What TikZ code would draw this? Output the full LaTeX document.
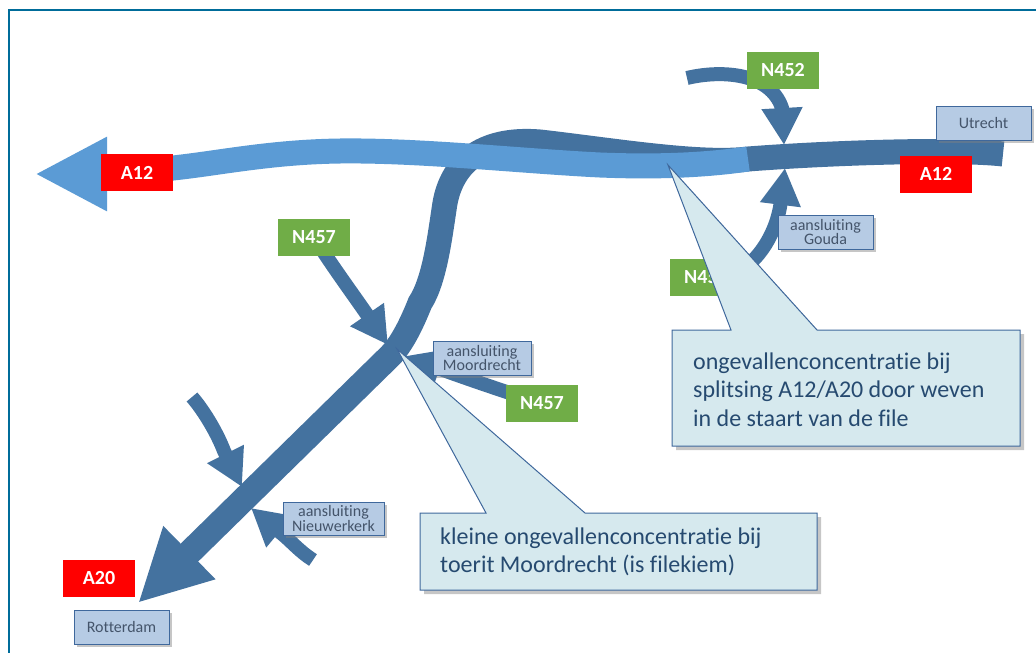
\documentclass[tikz,border=0pt]{standalone}
\usepackage{fontspec}
\setmainfont[Ligatures=NoCommon]{Carlito}
\usetikzlibrary{arrows.meta, shadows, backgrounds}
\definecolor{roaddark}{HTML}{44729F}
\definecolor{roadlight}{HTML}{5B9BD5}
\definecolor{signgreen}{HTML}{70AD47}
\definecolor{placeblue}{HTML}{B6CBE4}
\definecolor{placeline}{HTML}{3F689C}
\definecolor{placetext}{HTML}{44546A}
\definecolor{noteblue}{HTML}{D6E9EE}
\definecolor{notetext}{HTML}{264A70}
\definecolor{framecolor}{HTML}{006C9A}
\tikzset{
  roadsign/.style={text=white, minimum width=72pt, minimum height=37pt, inner sep=0pt,
    font=\fontsize{20}{20}\selectfont\bfseries},
  redsign/.style={roadsign, fill=red},
  greensign/.style={roadsign, fill=signgreen},
  placelabel/.style={fill=placeblue, draw=placeline, line width=1pt, text=placetext, inner sep=0pt,
    minimum width=95pt, minimum height=34pt, align=center, font=\fontsize{16}{13.5}\selectfont,
    drop shadow={shadow xshift=3pt, shadow yshift=-3pt, opacity=0.45}},
  noteshape/.style={fill=noteblue, draw=placeline, line width=1pt, line join=miter,
    drop shadow={shadow xshift=4pt, shadow yshift=-4pt, opacity=0.45}},
  notelabel/.style={anchor=west, text=notetext, inner sep=0pt, align=left,
    font=\fontsize{24}{28.5}\selectfont},
  mainroad/.style={line width=25pt, color=roaddark},
  sideroad/.style={line width=14pt, color=roaddark, -{Triangle[length=37pt, width=38.5pt]}},
}
\begin{document}
\begin{tikzpicture}[x=1pt, y=-1pt]
    \useasboundingbox (0,0) rectangle (1036,653);
    \node (a12west) at (137,172.5) [redsign] {A12};
    \node (a12east) at (936,174) [redsign] {A12};
    \node (a20sign) at (99,578.5) [redsign] {A20};
    \node (n452top) at (783,70.5) [greensign] {N452};
    \node (n452low) at (706,277) [greensign] {N452};
    \node (n457top) at (314,237.5) [greensign] {N457};
    \node (n457low) at (542,403.5) [greensign] {N457};
    \node (utrecht) at (983.5,123) [placelabel] {Utrecht};
    \node (gouda) at (825.5,232) [placelabel] {aansluiting\\Gouda};
    \node (moordrecht) at (482,358) [placelabel, minimum width=98pt] {aansluiting\\Moordrecht};
    \node (nieuwerkerk) at (333.5,518.5) [placelabel, minimum width=101pt, minimum height=33pt] {aansluiting\\Nieuwerkerk};
    \node (rotterdam) at (121.5,627) [placelabel] {Rotterdam};
    \coordinate (split) at (748,159);
    \coordinate (eastend) at (1003,154);
    \coordinate (westtip) at (35,174);
    \coordinate (southtip) at (138,603);
    \coordinate (n452tip) at (784,145);
    \coordinate (n452end) at (687,78);
    \coordinate (goudatip) at (785,168);
    \coordinate (moortip) at (388,345);
    \coordinate (moorlow) at (405,356);
    \coordinate (leftstart) at (192,397);
    \coordinate (lefttip) at (242,487);
    \coordinate (nieuwstart) at (313,560);
    \coordinate (nieuwtip) at (251,508);
    \begin{scope}[on background layer]
    \draw [line width=2pt, color=framecolor] (9,653) -- (9,10) -- (1036,10);
    \draw [mainroad, -{Triangle[length=72pt, width=69pt]}] (eastend) .. controls (960,149) and (840,152) .. (split)
        .. controls (700,165) and (610,150) .. (540,142)
        .. controls (480,137) and (452,165) .. (445,203)
        .. controls (440,235) and (435,280) .. (420,303)
        .. controls (412,323) and (402,344) .. (390,356)
        -- (southtip);
    \draw [line width=25pt, color=roadlight, -{Triangle[length=72pt, width=69pt]}] (split)
        .. controls (700,166) and (650,167) .. (600,165)
        .. controls (520,161) and (420,150) .. (340,151)
        .. controls (270,152) and (220,163) .. (173,168)
        .. controls (150,171) and (125,174) .. (westtip);
    \draw [sideroad] (n452end) .. controls (720,70) and (770,72) .. (782,108) -- (n452tip);
    \draw [sideroad] (n452low.center) .. controls (745,285) and (777,240) .. (781,200) -- (goudatip);
    \draw [sideroad] (n457top.center) .. controls (335,270) and (350,290) .. (368,316) -- (moortip);
    \draw [sideroad] (n457low.center) .. controls (500,390) and (465,378) .. (moorlow);
    \draw [sideroad] (leftstart) .. controls (205,412) and (218,435) .. (224,451) -- (lefttip);
    \draw [sideroad] (nieuwstart) .. controls (300,552) and (290,540) .. (281,533) -- (nieuwtip);
    \end{scope}
    \draw [noteshape] (672,330) -- (731,330) -- (668,165) -- (817,330) -- (1020,330) -- (1020,446) -- (672,446) -- cycle;
    \draw [noteshape] (420,513) -- (486,513) -- (397,349) -- (585,513) -- (817,513) -- (817,590) -- (420,590) -- cycle;
    \node (splitnote) at (693,389.5) [notelabel] {ongevallenconcentratie bij\\splitsing A12/A20 door weven\\in de staart van de file};
    \node (toeritnote) at (440,552) [notelabel] {kleine ongevallenconcentratie bij\\toerit Moordrecht (is filekiem)};
\end{tikzpicture}
\end{document}
